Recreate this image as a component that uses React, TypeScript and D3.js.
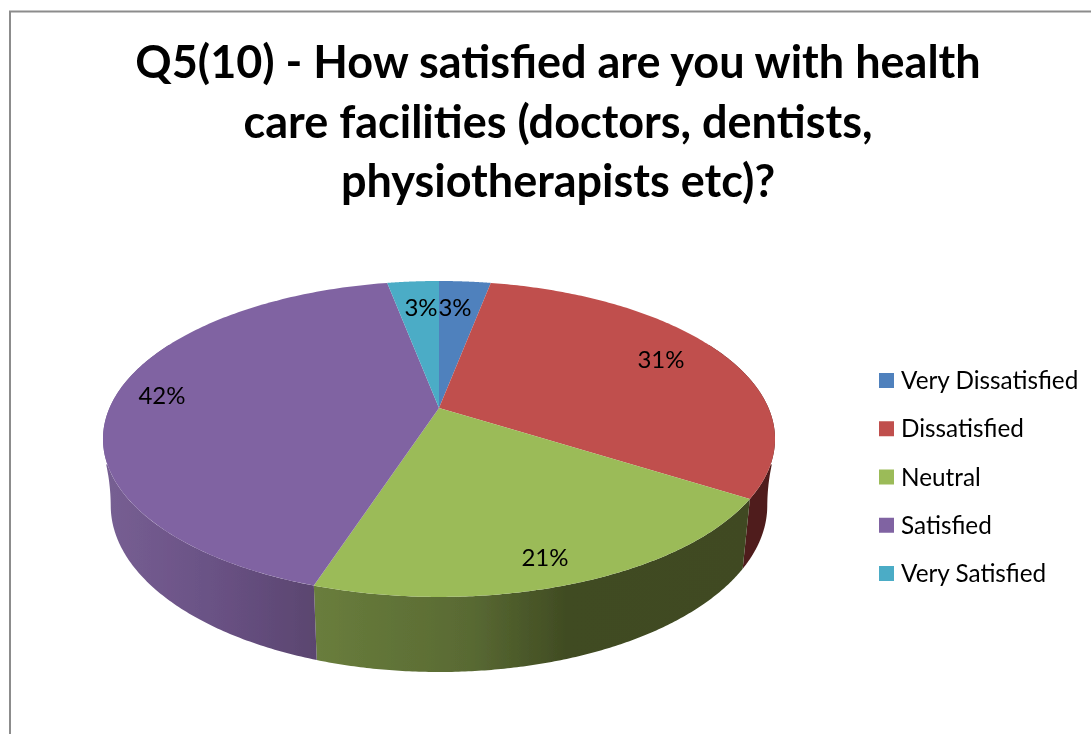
import React from "react";
import * as d3 from "d3";

const categories = ["Very Dissatisfied", "Dissatisfied", "Neutral", "Satisfied", "Very Satisfied"];
const values = [3, 31, 21, 42, 3];
const topColors = ["#4f81bd", "#c0504d", "#9bbb59", "#8064a2", "#4bacc6"];
const titleLines = [
  "Q5(10) - How satisfied are you with health",
  "care facilities (doctors, dentists,",
  "physiotherapists etc)?",
];
const FONT = "Lato, Carlito, sans-serif";

const cx = 439, cy = 408, k = 0.196, A = 329.5, B = 151.9;
const lowCy = 473, lowA = 321.9, lowB = 160;
const topRim = (t: number): [number, number] => {
  const u = Math.sin(t), v = Math.cos(t), w = 1 + k * v;
  return [cx + (A * u) / w, cy - (B * v) / w];
};
const lowRim = (t: number): [number, number] => {
  const u = Math.sin(t), v = Math.cos(t), w = 1 + k * v;
  const s = Math.min(1, Math.max(0, (v + 0.2) / 0.25));
  const widen = 1 + 0.045 * s * s;
  return [cx + (lowA * widen * u) / w, lowCy - (lowB * v) / w];
};
const samples = (a: number, b: number) => d3.range(0, 161).map((i) => a + ((b - a) * i) / 160);
const line = d3.line();

export default function App() {
  const arcs = d3.pie<number>().sort(null)(values);
  const legendY = d3.scalePoint<string>().domain(categories).range([380.5, 573.5]);
  return (
    <svg width={1091} height={734} style={{ position: "absolute", left: 0, top: 0, background: "#fff" }}>
      <defs>
        <filter id="soft" x="0" y="0" width="100%" height="100%" filterUnits="objectBoundingBox">
          <feGaussianBlur stdDeviation="0.55" />
        </filter>
        <linearGradient id="purpleSide" gradientUnits="userSpaceOnUse" x1={103} x2={318} y1={0} y2={0}>
          <stop offset="0" stopColor="#775f93" />
          <stop offset="0.5" stopColor="#6a5285" />
          <stop offset="1" stopColor="#5a456f" />
        </linearGradient>
        <linearGradient id="greenSide" gradientUnits="userSpaceOnUse" x1={318} x2={750} y1={0} y2={0}>
          <stop offset="0" stopColor="#697d3c" />
          <stop offset="0.35" stopColor="#596a33" />
          <stop offset="0.58" stopColor="#404b22" />
          <stop offset="1" stopColor="#3f4a21" />
        </linearGradient>
      </defs>
      <g filter="url(#soft)">
        <rect width={1091} height={734} fill="#fff" />
        <path d="M10 734V11.5H1091" fill="none" stroke="#8c8c8c" strokeWidth={2} />
        {titleLines.map((t, i) => (
          <text key={t} x={558} y={78 + i * 59.5} textAnchor="middle" fontFamily={FONT} fontWeight={700} fontSize={45} fill="#000">
            {t}
          </text>
        ))}
        {/* side walls */}
        {arcs.map((d, i) => {
          const a = Math.max(d.startAngle, Math.PI * 0.35);
          const b = Math.min(d.endAngle, Math.PI * 1.65);
          if (a >= b) return null;
          const pts = [...samples(a, b).map(topRim), ...samples(a, b).reverse().map(lowRim)];
          const fill = i === 1 ? "#4f1f1d" : i === 2 ? "url(#greenSide)" : "url(#purpleSide)";
          return <path key={i} d={(line(pts) ?? "") + "Z"} fill={fill} />;
        })}
        {/* top face */}
        {arcs.map((d, i) => {
          const pts: [number, number][] = [[cx, cy], ...samples(d.startAngle, d.endAngle).map(topRim)];
          return <path key={i} d={(line(pts) ?? "") + "Z"} fill={topColors[i]} />;
        })}
        {/* data labels */}
        {[[455, 308], [661, 360], [545, 558], [162, 396], [421, 308]].map(([x, y], i) => (
          <text key={i} x={x} y={y} dy="0.35em" textAnchor="middle" fontFamily={FONT} fontSize={24} fill="#000">
            {values[i]}%
          </text>
        ))}
        {/* legend */}
        {categories.map((c, i) => (
          <g key={c}>
            <rect x={879} y={(legendY(c) ?? 0) - 7.5} width={15} height={15} fill={topColors[i]} />
            <text x={901} y={legendY(c) ?? 0} dy="0.35em" fontFamily={FONT} fontSize={24.3} fill="#000">
              {c}
            </text>
          </g>
        ))}
      </g>
    </svg>
  );
}
